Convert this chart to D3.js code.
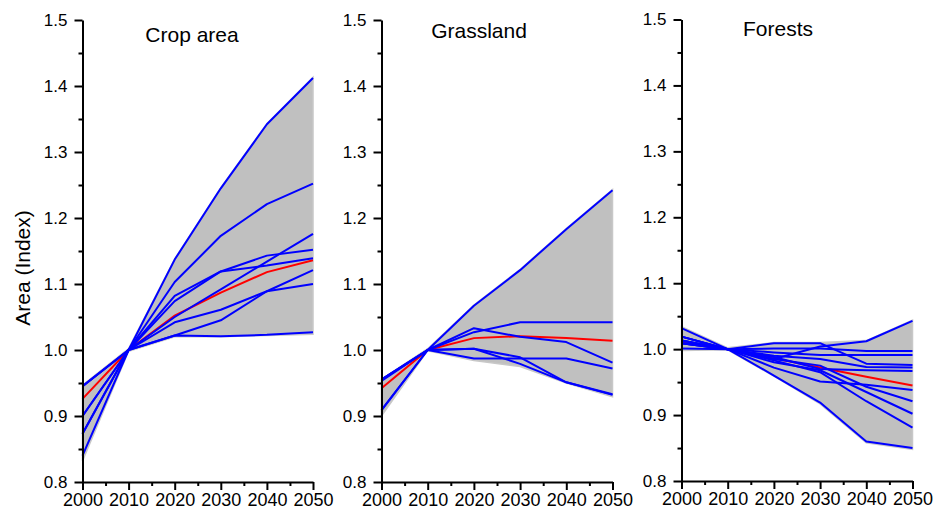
<!DOCTYPE html>
<html>
<head>
<meta charset="utf-8">
<script src="https://cdn.jsdelivr.net/npm/d3@7"></script>
<style>
  html, body { margin: 0; padding: 0; background: #fff; }
  svg { display: block; font-family: "Liberation Sans", Arial, sans-serif; }
</style>
</head>
<body>
<svg id="chart" width="933" height="510"></svg>
<script>
// DATA
const years = [2000, 2010, 2020, 2030, 2040, 2050];
const minor_years = [2005, 2015, 2025, 2035, 2045];
const y_ticks = [0.8, 0.9, 1.0, 1.1, 1.2, 1.3, 1.4, 1.5];
const y_minor = [0.85, 0.95, 1.05, 1.15, 1.25, 1.35, 1.45];
const panel_titles = ["Crop area", "Grassland", "Forests"];

// Crop area
const crop_lines = [
    [0.945, 1.0, 1.137, 1.245, 1.342, 1.412],
    [0.945, 1.0, 1.103, 1.173, 1.221, 1.252],
    [0.900, 1.0, 1.082, 1.119, 1.143, 1.152],
    [0.873, 1.0, 1.074, 1.119, 1.128, 1.139],
    [0.900, 1.0, 1.050, 1.092, 1.134, 1.176],
    [0.840, 1.0, 1.042, 1.061, 1.089, 1.100],
    [0.873, 1.0, 1.022, 1.045, 1.089, 1.121],
    [0.945, 1.0, 1.022, 1.021, 1.023, 1.027]
];
const crop_mean = [0.926, 1.0, 1.052, 1.087, 1.118, 1.136];
const crop_band_high = [0.947, 1.002, 1.138, 1.246, 1.343, 1.413];
const crop_band_low = [0.832, 0.998, 1.020, 1.020, 1.022, 1.024];

// Grassland
const grass_lines = [
    [0.955, 1.0, 1.067, 1.121, 1.183, 1.242],
    [0.955, 1.0, 1.027, 1.042, 1.042, 1.042],
    [0.953, 1.0, 1.033, 1.020, 1.012, 0.981],
    [0.909, 1.0, 1.002, 0.989, 0.951, 0.932],
    [0.955, 1.0, 1.002, 0.979, 0.951, 0.933],
    [0.909, 1.0, 0.987, 0.987, 0.987, 0.972]
];
const grass_mean = [0.942, 1.0, 1.018, 1.021, 1.018, 1.014];
const grass_band_high = [0.956, 1.002, 1.068, 1.122, 1.184, 1.243];
const grass_band_low = [0.900, 0.999, 0.984, 0.975, 0.950, 0.929];

// Forests
const forest_lines = [
    [1.009, 1.0, 0.985, 1.004, 1.012, 1.043],
    [1.013, 1.0, 1.009, 1.009, 0.978, 0.976],
    [1.001, 1.0, 1.001, 1.001, 0.997, 0.997],
    [1.019, 1.0, 0.995, 0.991, 0.991, 0.991],
    [1.013, 1.0, 0.990, 0.985, 0.973, 0.972],
    [1.019, 1.0, 0.972, 0.951, 0.946, 0.938],
    [1.009, 1.0, 0.985, 0.975, 0.943, 0.921],
    [1.013, 1.0, 0.980, 0.968, 0.935, 0.902],
    [1.019, 1.0, 0.983, 0.965, 0.921, 0.881],
    [1.032, 1.0, 0.960, 0.919, 0.860, 0.850],
    [1.009, 1.0, 0.988, 0.970, 0.968, 0.967]
];
const forest_mean = [1.010, 1.0, 0.986, 0.972, 0.958, 0.945];
const forest_band_high = [1.034, 1.002, 1.010, 1.010, 1.013, 1.044];
const forest_band_low = [0.998, 0.999, 0.959, 0.917, 0.858, 0.848];

// LAYOUT
const panels = [
    {title: panel_titles[0], lines: crop_lines, mean: crop_mean, high: crop_band_high, low: crop_band_low,
     x0: 82.5, x1: 313, y0: 482, y1: 20, title_x: 192, title_y: 42},
    {title: panel_titles[1], lines: grass_lines, mean: grass_mean, high: grass_band_high, low: grass_band_low,
     x0: 381.5, x1: 612.5, y0: 482, y1: 20, title_x: 479, title_y: 38},
    {title: panel_titles[2], lines: forest_lines, mean: forest_mean, high: forest_band_high, low: forest_band_low,
     x0: 681.5, x1: 912.5, y0: 481, y1: 19.5, title_x: 778, title_y: 36}
];

const svg = d3.select("#chart");

function draw_panel(p) {
    const x = d3.scaleLinear().domain([2000, 2050]).range([p.x0, p.x1]);
    const y = d3.scaleLinear().domain([0.8, 1.5]).range([p.y0, p.y1]);
    const g = svg.append("g");

    // grey envelope
    const band = d3.area()
        .x((d, i) => x(years[i]))
        .y0((d, i) => y(p.low[i]))
        .y1((d, i) => y(p.high[i]));
    g.append("path")
        .attr("d", band(years))
        .attr("fill", "#c0c0c0")
        .attr("stroke", "#c8c8c8")
        .attr("stroke-width", 1.5);

    const line = d3.line().x((d, i) => x(years[i])).y(d => y(d));

    g.append("path")
        .attr("d", line(p.mean))
        .attr("fill", "none")
        .attr("stroke", "#ff0000")
        .attr("stroke-width", 2);

    g.selectAll(".run")
        .data(p.lines)
        .join("path")
        .attr("class", "run")
        .attr("d", d => line(d))
        .attr("fill", "none")
        .attr("stroke", "#0000ff")
        .attr("stroke-width", 2)
        .attr("stroke-linejoin", "round");

    // axes
    const y_axis = g.append("g")
        .attr("transform", `translate(${p.x0},0)`)
        .call(d3.axisLeft(y).tickValues(y_ticks).tickSize(8).tickSizeOuter(0)
            .tickPadding(7).tickFormat(d3.format(".1f")));
    const y_axis_minor = g.append("g")
        .attr("transform", `translate(${p.x0},0)`)
        .call(d3.axisLeft(y).tickValues(y_minor).tickSize(4).tickFormat(""));
    y_axis_minor.select(".domain").remove();

    const x_axis = g.append("g")
        .attr("transform", `translate(0,${p.y0})`)
        .call(d3.axisBottom(x).tickValues(years).tickSize(8).tickSizeOuter(0)
            .tickPadding(3).tickFormat(d3.format("d")));
    const x_axis_minor = g.append("g")
        .attr("transform", `translate(0,${p.y0})`)
        .call(d3.axisBottom(x).tickValues(minor_years).tickSize(4).tickFormat(""));
    x_axis_minor.select(".domain").remove();

    [y_axis, y_axis_minor, x_axis, x_axis_minor].forEach(a => {
        a.selectAll("path, line").attr("stroke", "#000").attr("stroke-width", 2);
        a.selectAll("text").attr("fill", "#000").attr("font-family", "Liberation Sans, Arial, sans-serif");
    });
    y_axis.selectAll("text").attr("font-size", 17);
    x_axis.selectAll("text").attr("font-size", 18);

    g.append("text")
        .attr("x", p.title_x)
        .attr("y", p.title_y)
        .attr("text-anchor", "middle")
        .attr("font-size", 21)
        .attr("fill", "#000")
        .text(p.title);
}

panels.forEach(draw_panel);

svg.append("text")
    .attr("transform", "translate(30,268) rotate(-90)")
    .attr("text-anchor", "middle")
    .attr("font-size", 21)
    .attr("fill", "#000")
    .text("Area (Index)");
</script>
</body>
</html>
